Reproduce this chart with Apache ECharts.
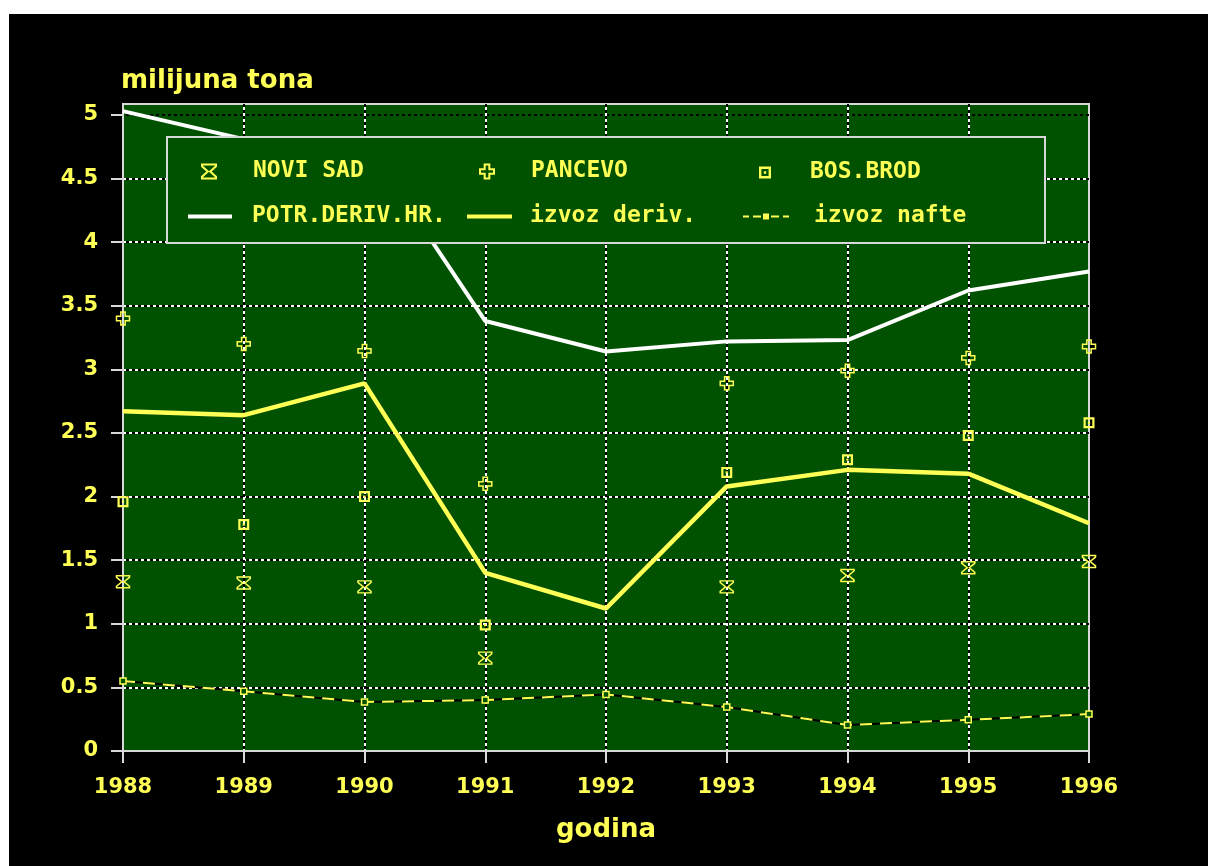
<!DOCTYPE html>
<html>
<head>
<meta charset="utf-8">
<script src="https://cdn.jsdelivr.net/npm/echarts@6/dist/echarts.min.js"></script>
<style>
html,body{margin:0;padding:0;background:#ffffff;}
#bg{position:absolute;left:9px;top:14px;width:1199px;height:852px;background:#000000;}
#chart{position:absolute;left:0;top:0;width:1208px;height:866px;}
</style>
</head>
<body>
<div id="bg"></div>
<div id="chart"></div>
<script>
// ---- data ----
const years = [1988, 1989, 1990, 1991, 1992, 1993, 1994, 1995, 1996];
const yTicks = [0, 0.5, 1, 1.5, 2, 2.5, 3, 3.5, 4, 4.5, 5];
const potrDerivHr = [5.03, 4.81, 4.80, 3.38, 3.14, 3.22, 3.23, 3.62, 3.77];
const izvozDeriv  = [2.67, 2.64, 2.89, 1.40, 1.12, 2.08, 2.21, 2.18, 1.79];
const izvozNafte  = [0.55, 0.47, 0.385, 0.40, 0.445, 0.345, 0.205, 0.245, 0.29];
const noviSad     = [1.33, 1.32, 1.29, 0.73, null, 1.29, 1.38, 1.44, 1.49];
const pancevo     = [3.40, 3.20, 3.145, 2.10, null, 2.89, 2.99, 3.09, 3.18];
const bosBrod     = [1.96, 1.78, 2.00, 0.99, null, 2.19, 2.29, 2.48, 2.58];

const YEL = '#ffff55';
const GRN = '#005200';
const BORDER = '#d8d8d8';

function pairs(arr) { return years.map((y, i) => [y, arr[i]]); }

const hourglass = 'path://M0,0H12V1.6L7,6L12,10.4V12H0V10.4L5,6L0,1.6Z';
const plus = 'path://M4,0H8V4H12V8H8V12H4V8H0V4H4Z';
const boxDot = 'path://M0,0H10V10H0ZM2,2V8H8V2ZM4,4H6V6H4Z';
const lineIcon = 'path://M0,0H44V4H0Z';
const dashIcon = 'path://M0,4H6V6H0ZM10,4H18V6H10ZM20,2H26V8H20ZM28,4H36V6H28ZM40,4H46V6H40Z';

const legendText = { fontFamily: 'DejaVu Sans Mono', fontWeight: 'bold', fontSize: 23, color: YEL };
function leg(item, left, top, w, h, padLeft) {
  return {
    data: [item], left: left, top: top, itemWidth: w, itemHeight: h,
    padding: 0, orient: 'horizontal', z: 60, selectedMode: false,
    textStyle: Object.assign({ padding: [0, 0, 0, padLeft] }, legendText)
  };
}

const chart = echarts.init(document.getElementById('chart'), null, { renderer: 'canvas' });
const axisFont = { fontFamily: 'DejaVu Sans', fontWeight: 'bold', fontSize: 21, color: YEL };

chart.setOption({
  animation: false,
  backgroundColor: 'transparent',
  title: {
    text: 'milijuna tona', left: 121, top: 68, padding: 0,
    textStyle: { fontFamily: 'DejaVu Sans', fontWeight: 'bold', fontSize: 26, color: YEL }
  },
  grid: {
    left: 123, right: 119, top: 104, bottom: 115,
    show: true, backgroundColor: GRN, borderColor: BORDER, borderWidth: 2
  },
  legend: [
    leg('NOVI SAD', 201, 160, 14, 14, 32),
    leg('PANCEVO', 479, 160, 14, 14, 32),
    leg('BOS.BROD', 759, 161, 12, 12, 34),
    leg({ name: 'POTR.DERIV.HR.', icon: lineIcon, itemStyle: { color: '#ffffff' } }, 188, 205, 44, 14, 15),
    leg({ name: 'izvoz deriv.', icon: lineIcon, itemStyle: { color: YEL } }, 467, 205, 45, 14, 13),
    leg({ name: 'izvoz nafte', icon: dashIcon, itemStyle: { color: YEL, borderWidth: 0 } }, 743, 205, 46, 14, 20)
  ],
  graphic: [{
    type: 'rect', z: 50,
    shape: { x: 167, y: 137, width: 878, height: 106 },
    style: { fill: GRN, stroke: BORDER, lineWidth: 2 }
  }],
  xAxis: [{
    type: 'value', min: 1988, max: 1996, interval: 1,
    name: 'godina', nameLocation: 'middle', nameGap: 79,
    nameTextStyle: { fontFamily: 'DejaVu Sans', fontWeight: 'bold', fontSize: 26, color: YEL, verticalAlign: 'middle' },
    axisLine: { show: true, lineStyle: { color: BORDER, width: 2 } },
    axisTick: { show: true, length: 12, lineStyle: { color: BORDER, width: 2 } },
    axisLabel: Object.assign({ margin: 26, formatter: v => String(v) }, axisFont),
    splitLine: { show: true, showMinLine: false, showMaxLine: false, lineStyle: { color: '#000000', width: 2, type: [3, 3] } }
  }, {
    type: 'value', min: 1988, max: 1996, interval: 1, position: 'bottom',
    axisLine: { show: false }, axisTick: { show: false }, axisLabel: { show: false },
    splitLine: { show: true, showMinLine: false, showMaxLine: false, lineStyle: { color: '#ffffff', width: 2, type: [3, 3], dashOffset: 3 } }
  }],
  yAxis: [{
    type: 'value', min: 0, max: 5.086, interval: 0.5,
    axisLine: { show: true, lineStyle: { color: BORDER, width: 2 } },
    axisTick: { show: true, length: 12, customValues: yTicks, lineStyle: { color: BORDER, width: 2 } },
    axisLabel: Object.assign({ margin: 25, customValues: yTicks, formatter: v => String(v) }, axisFont),
    splitLine: { show: true, showMinLine: false, showMaxLine: false, lineStyle: { color: '#ffffff', width: 2, type: [3, 3] } }
  }, {
    type: 'value', min: 0, max: 5.086, interval: 0.5, position: 'left',
    axisLine: { show: false }, axisTick: { show: false }, axisLabel: { show: false },
    splitLine: { show: true, showMinLine: false, showMaxLine: false, lineStyle: { color: '#000000', width: 2, type: [3, 3], dashOffset: 3 } }
  }],
  series: [
    {
      name: 'POTR.DERIV.HR.', type: 'line', data: pairs(potrDerivHr), showSymbol: false, symbol: 'none',
      lineStyle: { color: '#ffffff', width: 4 }, itemStyle: { color: '#ffffff' }, z: 3
    },
    {
      name: 'izvoz deriv.', type: 'line', data: pairs(izvozDeriv), showSymbol: false, symbol: 'none',
      lineStyle: { color: YEL, width: 4.5 }, itemStyle: { color: YEL }, z: 3
    },
    {
      name: 'nafte_podloga', type: 'line', data: pairs(izvozNafte), showSymbol: false, symbol: 'none',
      lineStyle: { color: '#000000', width: 2 }, itemStyle: { color: '#000000' }, z: 3
    },
    {
      name: 'izvoz nafte', type: 'line', data: pairs(izvozNafte), symbol: 'rect', symbolSize: 6, showSymbol: true,
      lineStyle: { color: YEL, width: 2, type: [12, 8] },
      itemStyle: { color: GRN, borderColor: YEL, borderWidth: 1.5 }, z: 4
    },
    {
      name: 'NOVI SAD', type: 'scatter', data: pairs(noviSad), symbol: hourglass, symbolSize: [13, 12],
      itemStyle: { color: 'rgba(0,0,0,0)', borderColor: YEL, borderWidth: 1.5, opacity: 1 }, z: 4
    },
    {
      name: 'PANCEVO', type: 'scatter', data: pairs(pancevo), symbol: plus, symbolSize: 13,
      itemStyle: { color: 'rgba(0,0,0,0)', borderColor: YEL, borderWidth: 1.5, opacity: 1 }, z: 4
    },
    {
      name: 'BOS.BROD', type: 'scatter', data: pairs(bosBrod), symbol: boxDot, symbolSize: 11,
      itemStyle: { color: YEL, opacity: 1 }, z: 4
    }
  ]
});
</script>
</body>
</html>
